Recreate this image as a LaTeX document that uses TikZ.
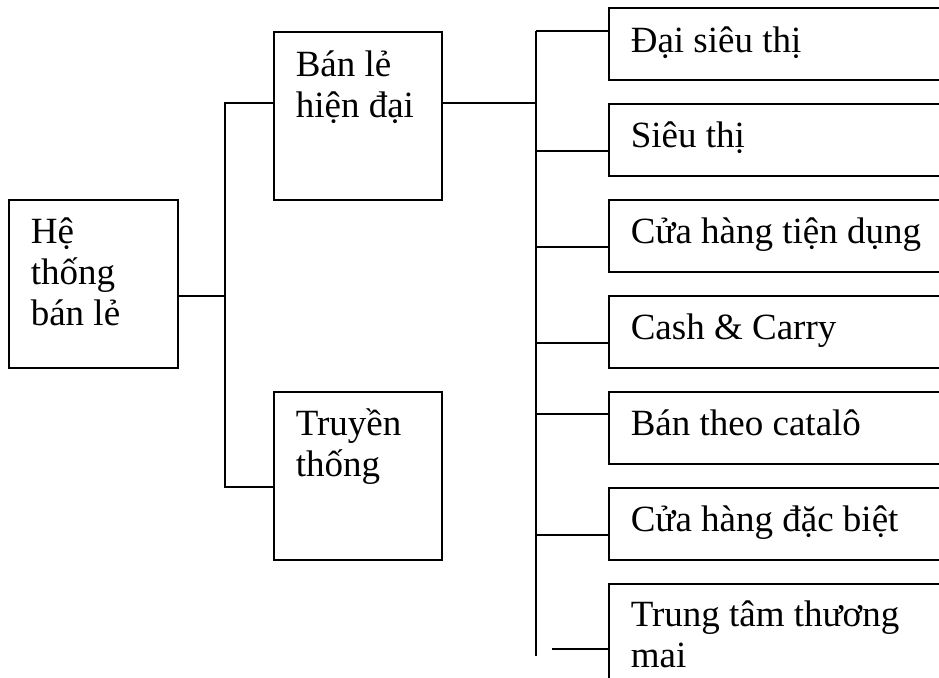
\documentclass[tikz,border=0pt]{standalone}
\usepackage{fontspec}
\setmainfont{Liberation Serif}
\usetikzlibrary{
  chains,
  scopes
}

\begin{document}
\begin{tikzpicture}[
      x=0.5pt, y=-0.5pt,
      bigbox/.style={
         rectangle,
         anchor=north west,
         minimum width=84pt,
         minimum height=84pt,
         inner sep=0pt,
         draw=black,
         line width=0.8pt
      },
      itembox/.style={
         bigbox,
         minimum width=176pt,
         minimum height=36pt
      },
      % anchored on the baseline of the last line
      boxtext/.style={
         anchor=base west,
         inner sep=0pt,
         align=left,
         font=\fontsize{18.5pt}{20.5pt}\selectfont
      },
      point/.style={coordinate},
      line width=0.8pt
    ]
    \useasboundingbox (0,0) rectangle (939,677);
    \clip (0,0) rectangle (939,677);
    % boxes
    \node (n1) [bigbox, minimum width=84.5pt] at (8,199) {};
    \node (n2) [bigbox] at (273,31) {};
    \node (n3) [bigbox] at (273,391) {};
    \node (m1) [itembox] at (608,7) {};
    \node (m2) [itembox] at (608,103) {};
    \node (m3) [itembox] at (608,199) {};
    \node (m4) [itembox] at (608,295) {};
    \node (m5) [itembox] at (608,391) {};
    \node (m6) [itembox] at (608,487) {};
    \node (m7) [itembox, minimum height=60pt] at (608,583) {};
    % texts
    \node (t1) [boxtext] at ([shift={(22,126)}]n1.north west) {Hệ\\thống\\bán lẻ};
    \node (t2) [boxtext] at ([shift={(22,86)}]n2.north west) {Bán lẻ\\hiện đại};
    \node (t3) [boxtext] at ([shift={(22,85)}]n3.north west) {Truyền\\thống};
    \node (u1) [boxtext] at ([shift={(22,45)}]m1.north west) {Đại siêu thị};
    \node (u2) [boxtext] at ([shift={(22,44)}]m2.north west) {Siêu thị};
    \node (u3) [boxtext] at ([shift={(22,44)}]m3.north west) {Cửa hàng tiện dụng};
    \node (u4) [boxtext] at ([shift={(22,44)}]m4.north west) {Cash \& Carry};
    \node (u5) [boxtext] at ([shift={(22,44)}]m5.north west) {Bán theo catalô};
    \node (u6) [boxtext] at ([shift={(22,44)}]m6.north west) {Cửa hàng đặc biệt};
    \node (u7) [boxtext] at ([shift={(22,84)}]m7.north west) {Trung tâm thương\\mai};
    % trunks
    \node (p1) [point] at (225,296) {};
    \node (p2) [point] at (225,103) {};
    \node (p3) [point] at (225,487) {};
    \node (p4) [point] at (536,103) {};
    \node (p5) [point] at (536,31) {};
    \node (p6) [point] at (536,656) {};
    \draw (n1.east |- p1) -- (p1);
    \draw (p2 -| n2.west) -- (p2) -- (p3) -- (p3 -| n3.west);
    \draw (p2 -| n2.east) -- (p4);
    { [start chain]
         \chainin (p5);
         \chainin (p6)    [join];
    }
    \foreach \n/\d in {m1/24, m2/48, m3/48, m4/48, m5/23, m6/48} {
      \coordinate (b) at ([shift={(0,\d)}]\n.north west);
      \draw (b) -- (b -| p4);
    }
    % last branch stops short of the trunk
    \coordinate (b7) at ([shift={(2,66)}]m7.north west);
    \coordinate (c7) at ([shift={(-56,66)}]m7.north west);
    \draw (c7) -- (b7);
\end{tikzpicture}
\end{document}
